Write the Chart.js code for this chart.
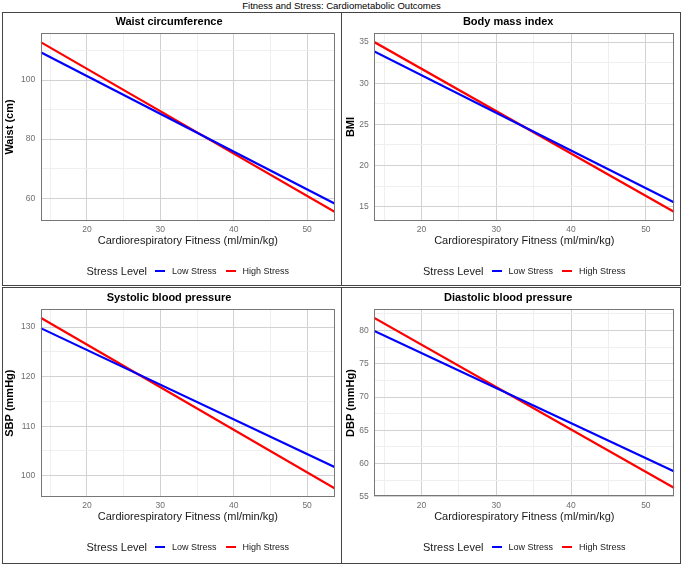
<!DOCTYPE html>
<html>
<head>
<meta charset="utf-8">
<script src="https://cdn.jsdelivr.net/npm/chart.js@4.4.0/dist/chart.umd.min.js"></script>
<style>
  body { margin: 0; width: 683px; height: 567px; background: #fff; position: relative; overflow: hidden;
         font-family: "Liberation Sans", Arial, sans-serif; }
  #main-title { position: absolute; left: 0; top: 0; width: 683px; text-align: center;
                font-size: 9.5px; line-height: 12px; color: #000; }
  .panel { position: absolute; box-sizing: border-box; border: 1px solid #444; background: #fff; }
  .panel canvas { position: absolute; left: 0; top: 0; }
  .legend { position: absolute; height: 14px; display: flex; justify-content: center; align-items: center; white-space: nowrap; }
  .legend .ttl { font-size: 11px; color: #1a1a1a; margin-right: 8px; }
  .legend .sw { width: 10px; height: 2px; margin-right: 7px; }
  .legend .lbl { font-size: 9px; color: #1a1a1a; margin-right: 9px; }
  .legend .lbl:last-child { margin-right: 0; }
</style>
</head>
<body>
<div id="main-title">Fitness and Stress: Cardiometabolic Outcomes</div>

<div class="panel" style="left:2px;top:12px;width:340px;height:274px"><canvas id="c-waist" width="338" height="272"></canvas><div class="legend" id="l-waist"></div></div>
<div class="panel" style="left:341px;top:12px;width:340px;height:274px"><canvas id="c-bmi" width="338" height="272"></canvas><div class="legend" id="l-bmi"></div></div>
<div class="panel" style="left:2px;top:287px;width:340px;height:277px"><canvas id="c-sbp" width="338" height="275"></canvas><div class="legend" id="l-sbp"></div></div>
<div class="panel" style="left:341px;top:287px;width:340px;height:277px"><canvas id="c-dbp" width="338" height="275"></canvas><div class="legend" id="l-dbp"></div></div>

<script>
// fitness range covered by the fitted lines (ml/min/kg)
const fitness = [13.7, 53.8];

const seriesNames = ['Low Stress', 'High Stress'];
const seriesColors = ['#0000ff', '#ff0000'];

// predicted outcome at the two ends of the fitness range
const waistLow = [109.4, 58.1];
const waistHigh = [112.8, 55.3];
const bmiLow = [33.85, 15.5];
const bmiHigh = [35.0, 14.35];
const sbpLow = [129.8, 101.7];
const sbpHigh = [131.9, 97.4];
const dbpLow = [79.95, 58.8];
const dbpHigh = [81.9, 56.3];

// axis ticks: grid every `step`, label every `labelStep`
const xStep = 5, xLabelStep = 10;
const waistTicks = { min: 52.3, max: 115.9, step: 10, labelStep: 20 };
const bmiTicks = { min: 13.25, max: 36.1, step: 2.5, labelStep: 5 };
const sbpTicks = { min: 95.7, max: 133.6, step: 5, labelStep: 10 };
const dbpTicks = { min: 55, max: 83.2, step: 2.5, labelStep: 5 };

const FONT = '"Liberation Sans", Arial, sans-serif';
const MAJOR = '#d2d2d2';
const MINOR = '#efefef';

const isMultiple = (v, s) => Math.abs(v / s - Math.round(v / s)) < 1e-6;

// box around the plotting area
const framePlugin = {
    id: 'frame',
    afterDraw(chart) {
        const a = chart.chartArea;
        const ctx = chart.ctx;
        ctx.save();
        ctx.strokeStyle = '#777';
        ctx.lineWidth = 1;
        ctx.strokeRect(Math.round(a.left) + 0.5, Math.round(a.top) + 0.5,
                       Math.round(a.right - a.left) - 1, Math.round(a.bottom - a.top) - 1);
        ctx.restore();
    }
};

function makePanel(id, title, yTitle, low, high, yt, box) {
    const datasets = [low, high].map((vals, i) => ({
        label: seriesNames[i],
        data: fitness.map((x, k) => ({ x: x, y: vals[k] })),
        borderColor: seriesColors[i],
        backgroundColor: seriesColors[i],
        borderWidth: 2.2,
        pointRadius: 0,
        tension: 0,
        fill: false
    }));

    const canvas = document.getElementById('c-' + id);
    new Chart(canvas, {
        type: 'line',
        data: { datasets: datasets },
        options: {
            responsive: false,
            animation: false,
            devicePixelRatio: 1,
            layout: { padding: { top: 0, left: 0, right: canvas.width - box.right, bottom: canvas.height - box.bottom - 27 } },
            plugins: {
                legend: { display: false },
                tooltip: { enabled: false },
                title: {
                    display: true,
                    text: title,
                    color: '#000',
                    font: { family: FONT, size: 11, weight: 'bold', lineHeight: 1.2 },
                    padding: { top: box.titleTop, bottom: box.top - 13.2 - box.titleTop }
                }
            },
            scales: {
                x: {
                    type: 'linear',
                    min: fitness[0],
                    max: fitness[1],
                    afterFit: s => { s.height = 27; },
                    ticks: {
                        stepSize: xStep,
                        includeBounds: false,
                        autoSkip: false,
                        maxRotation: 0,
                        padding: 4,
                        color: '#6e6e6e',
                        font: { family: FONT, size: 8.5 },
                        callback: v => isMultiple(v, xLabelStep) ? String(v) : ''
                    },
                    grid: {
                        drawTicks: false,
                        lineWidth: 1,
                        color: c => isMultiple(c.tick.value, xLabelStep) ? MAJOR : MINOR
                    },
                    border: { display: false },
                    title: {
                        display: true,
                        text: 'Cardiorespiratory Fitness (ml/min/kg)',
                        color: '#1a1a1a',
                        font: { family: FONT, size: 11, lineHeight: 1.2 },
                        padding: { top: 0, bottom: 0.4 }
                    }
                },
                y: {
                    min: yt.min,
                    max: yt.max,
                    afterFit: s => { s.width = box.left; },
                    ticks: {
                        stepSize: yt.step,
                        includeBounds: false,
                        autoSkip: false,
                        padding: 5.5,
                        color: '#6e6e6e',
                        font: { family: FONT, size: 8.5 },
                        callback: v => isMultiple(v, yt.labelStep) ? String(v) : ''
                    },
                    grid: {
                        drawTicks: false,
                        lineWidth: 1,
                        color: c => isMultiple(c.tick.value, yt.labelStep) ? MAJOR : MINOR
                    },
                    border: { display: false },
                    title: {
                        display: true,
                        text: yTitle,
                        color: '#000',
                        font: { family: FONT, size: 11, weight: 'bold', lineHeight: 1.2 },
                        padding: { top: box.yTitle - 6.6, bottom: 0 }
                    }
                }
            }
        },
        plugins: [framePlugin]
    });

    // legend under the plot, centred on the plotting area
    const leg = document.getElementById('l-' + id);
    let html = '<span class="ttl">Stress Level</span>';
    seriesNames.forEach((name, i) => {
        html += '<span class="sw" style="background:' + seriesColors[i] + '"></span><span class="lbl">' + name + '</span>';
    });
    leg.innerHTML = html;
    leg.style.left = box.left + 'px';
    leg.style.width = (box.right - box.left) + 'px';
    leg.style.top = (box.legendY - 7) + 'px';
}

makePanel('waist', 'Waist circumference', 'Waist (cm)', waistLow, waistHigh, waistTicks,
    { left: 37.7, right: 332, top: 20, bottom: 208, titleTop: 2.4, yTitle: 7, legendY: 257.7 });
makePanel('bmi', 'Body mass index', 'BMI', bmiLow, bmiHigh, bmiTicks,
    { left: 32.3, right: 332.3, top: 20, bottom: 208, titleTop: 2.4, yTitle: 9, legendY: 257.7 });
makePanel('sbp', 'Systolic blood pressure', 'SBP (mmHg)', sbpLow, sbpHigh, sbpTicks,
    { left: 37.7, right: 332, top: 21.3, bottom: 209, titleTop: 3.7, yTitle: 7, legendY: 259 });
makePanel('dbp', 'Diastolic blood pressure', 'DBP (mmHg)', dbpLow, dbpHigh, dbpTicks,
    { left: 32.3, right: 332.3, top: 21.3, bottom: 208.7, titleTop: 3.7, yTitle: 9, legendY: 259 });
</script>
</body>
</html>
